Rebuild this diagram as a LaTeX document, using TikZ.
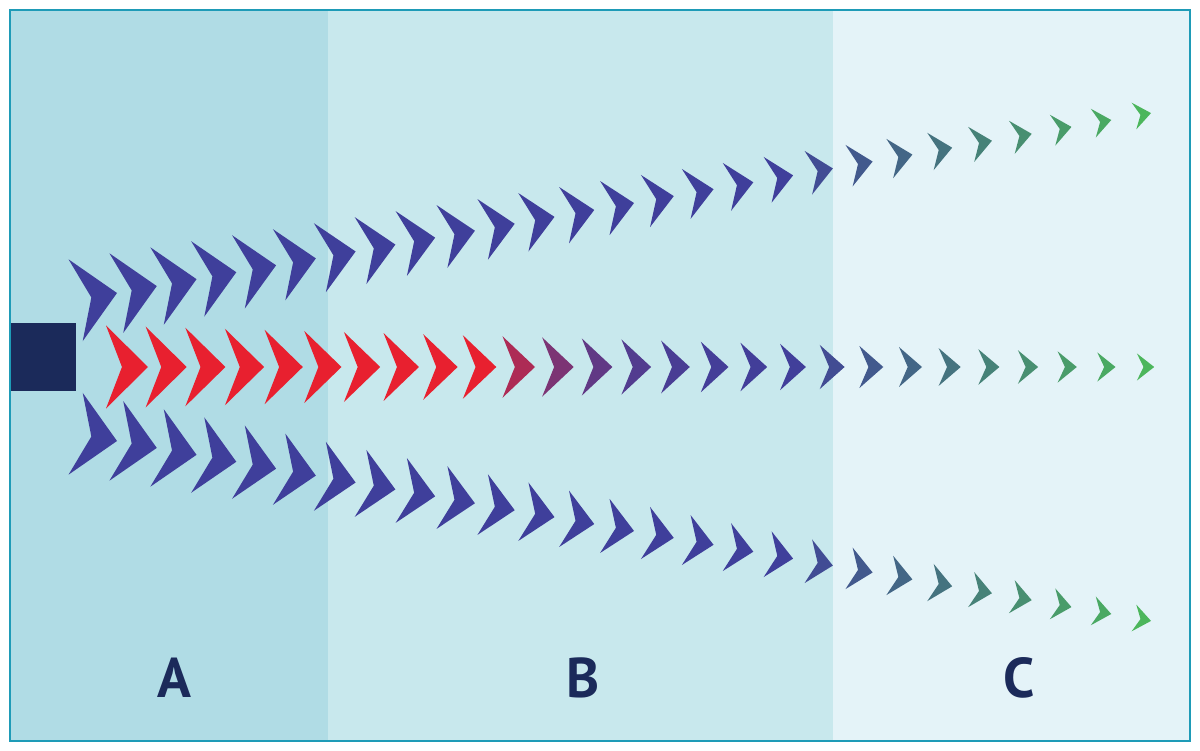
\documentclass[tikz,border=0pt]{standalone}
\usepackage{fontspec}
\newfontfamily\lblfont{PT Sans}
\definecolor{zoneA}{RGB}{176,220,229}
\definecolor{zoneB}{RGB}{200,232,237}
\definecolor{zoneC}{RGB}{228,243,248}
\definecolor{framec}{RGB}{30,155,183}
\definecolor{navy}{RGB}{27,42,90}
\definecolor{chred}{RGB}{232,32,47}
\definecolor{chind}{RGB}{63,63,155}
\definecolor{chgrn}{RGB}{76,182,92}
\begin{document}
\begin{tikzpicture}[x=1pt,y=-1pt,
  zonelabel/.style={font=\lblfont\bfseries\fontsize{56}{56}\selectfont, text=navy, anchor=base, inner sep=0pt}]
\useasboundingbox (0,0) rectangle (1200,751);
\fill[white] (0,0) rectangle (1200,751);
\fill[zoneA] (10,10) rectangle (328,741);
\fill[zoneB] (328,10) rectangle (833,741);
\fill[zoneC] (833,10) rectangle (1190,741);
\draw[framec, line width=2.5pt] (10,10) rectangle (1190,741);
\fill[navy] (11,323) rectangle (76,391);
\foreach \i in {0,...,26}{
  \pgfmathsetmacro\w{42-0.95*\i}
  \pgfmathsetmacro\h{83-2.15*\i}
  \pgfmathtruncatemacro\g{\i>17 ? round((\i-17)*100/9) : 0}
  \pgfmathtruncatemacro\r{\i<=9 ? 100 : round(65*exp(-0.6*max(\i-10,0)))}
  \colorlet{basec}{chgrn!\g!chind}
  \colorlet{midc}{chred!\r!basec}
  \fill[midc, shift={(148+38.7*\i,367)}]
    (0,0) -- (-\w,-\h/2) -- (-0.62*\w,0) -- (-\w,\h/2) -- cycle;
  \fill[basec, shift={(117+39.77*\i,293-6.92*\i)}, rotate=9.87]
    (0,0) -- (-\w,-\h/2) -- (-0.62*\w,0) -- (-\w,\h/2) -- cycle;
  \fill[basec, shift={(117+39.77*\i,441+6.92*\i)}, rotate=-9.87]
    (0,0) -- (-\w,-\h/2) -- (-0.62*\w,0) -- (-\w,\h/2) -- cycle;
}
\node[zonelabel] (lblA) at (174,697) {A};
\node[zonelabel] (lblB) at (583,697) {B};
\node[zonelabel] (lblC) at (1019,697) {C};
\end{tikzpicture}
\end{document}
